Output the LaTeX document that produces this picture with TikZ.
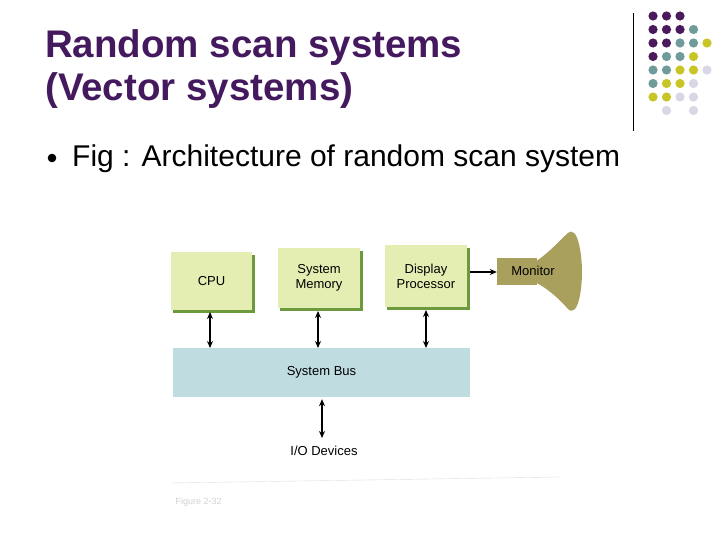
\documentclass[tikz,border=0pt]{standalone}
\usepackage{fontspec}
\setmainfont{Liberation Sans}
\usetikzlibrary{arrows.meta}
\begin{document}
\begin{tikzpicture}[x=1pt,y=-1pt,
  box/.style={fill=boxc,inner sep=0pt,font=\fontsize{13}{15}\selectfont,align=center},
  arr/.style={line width=1.3pt,{Stealth[length=7pt,width=6pt]}-{Stealth[length=7pt,width=6pt]}}]
\definecolor{P}{HTML}{4A1A5C}\definecolor{T}{HTML}{6F9C9A}
\definecolor{Y}{HTML}{C7C626}\definecolor{L}{HTML}{D7D7E6}
\definecolor{boxc}{HTML}{E4EDB2}\definecolor{shad}{HTML}{6E9A3E}
\definecolor{busc}{HTML}{BFDDE1}\definecolor{monc}{HTML}{A9A05E}
\definecolor{title}{HTML}{44195E}
\useasboundingbox (0,0) rectangle (728,546);
\fill[white] (0,0) rectangle (728,546);
% dots
\foreach \r/\row in {0/{P,P,P},1/{P,P,P,T},2/{P,P,T,T,Y},3/{P,T,T,Y},4/{T,T,Y,Y,L},5/{T,Y,Y,L},6/{Y,Y,L,L}}{
  \foreach \c [count=\i from 0] in \row { \fill[\c] (653+13.5*\i,16+13.5*\r) circle (4.6); } }
\fill[L] (666.5,110.5) circle (4.6); \fill[L] (693.5,110.5) circle (4.6);
\draw[line width=1pt] (633,13) -- (633,131);
% title
\node[anchor=base west,inner sep=0pt,text=title,font=\fontsize{38.5}{40}\selectfont\bfseries] (t1) at (45,57) {Random scan systems};
\node[anchor=base west,inner sep=0pt,text=title,font=\fontsize{38.5}{40}\selectfont\bfseries] (t2) at (45,100) {(Vector systems)};
\fill (52,158) circle (4.3);
\node[anchor=base west,inner sep=0pt,font=\fontsize{30}{32}\selectfont] (b) at (72,166) {Fig : Architecture of random scan system};
% shadows
\foreach \a/\b/\c/\d in {171/252/252/310,278/248/360/308,385/245/467/307}{
  \fill[shad] (\a+2,\b+3) rectangle (\c+3,\d+3);}
\node[box,minimum width=81pt,minimum height=58pt] (cpu) at (211.5,281) {CPU};
\node[box,minimum width=82pt,minimum height=60pt] (mem) at (319,278) {System\\Memory};
\node[box,minimum width=82pt,minimum height=62pt] (dp) at (426,276) {Display\\Processor};
\node[fill=busc,minimum width=297pt,minimum height=49pt,inner sep=0pt,font=\fontsize{13}{15}\selectfont] (bus) at (321.5,372.5) {System Bus};
\fill[monc] (535,262) .. controls (550,252) and (560,240) .. (568,233) .. controls (578,225) and (582,255) .. (582,272) .. controls (582,290) and (578,318) .. (568,309) .. controls (560,300) and (550,290) .. (535,282) -- cycle;
\node[fill=monc,minimum width=40pt,minimum height=27pt,inner sep=0pt] (mon) at (517,271.5) {};
\node[font=\fontsize{13}{15}\selectfont] (monl) at (533,271) {Monitor};
\draw[line width=1.3pt,-{Stealth[length=7pt,width=6pt]}] (dp.east|-0,272) ++(3,0) -- (mon.west|-0,272);
\draw[arr] (210,312) -- (210,348);
\draw[arr] (318,311) -- (318,348);
\draw[arr] (426,310) -- (426,348);
\node[font=\fontsize{13}{15}\selectfont] (io) at (324,451) {I/O Devices};
\draw[arr] (bus.south-|322,0) ++(0,2) -- (322,438);
\draw[gray!25] (170,483) -- (560,477);
\node[anchor=west,text=gray!35,font=\fontsize{9}{10}\selectfont] (fg) at (172,502) {Figure 2-32};
\end{tikzpicture}
\end{document}
